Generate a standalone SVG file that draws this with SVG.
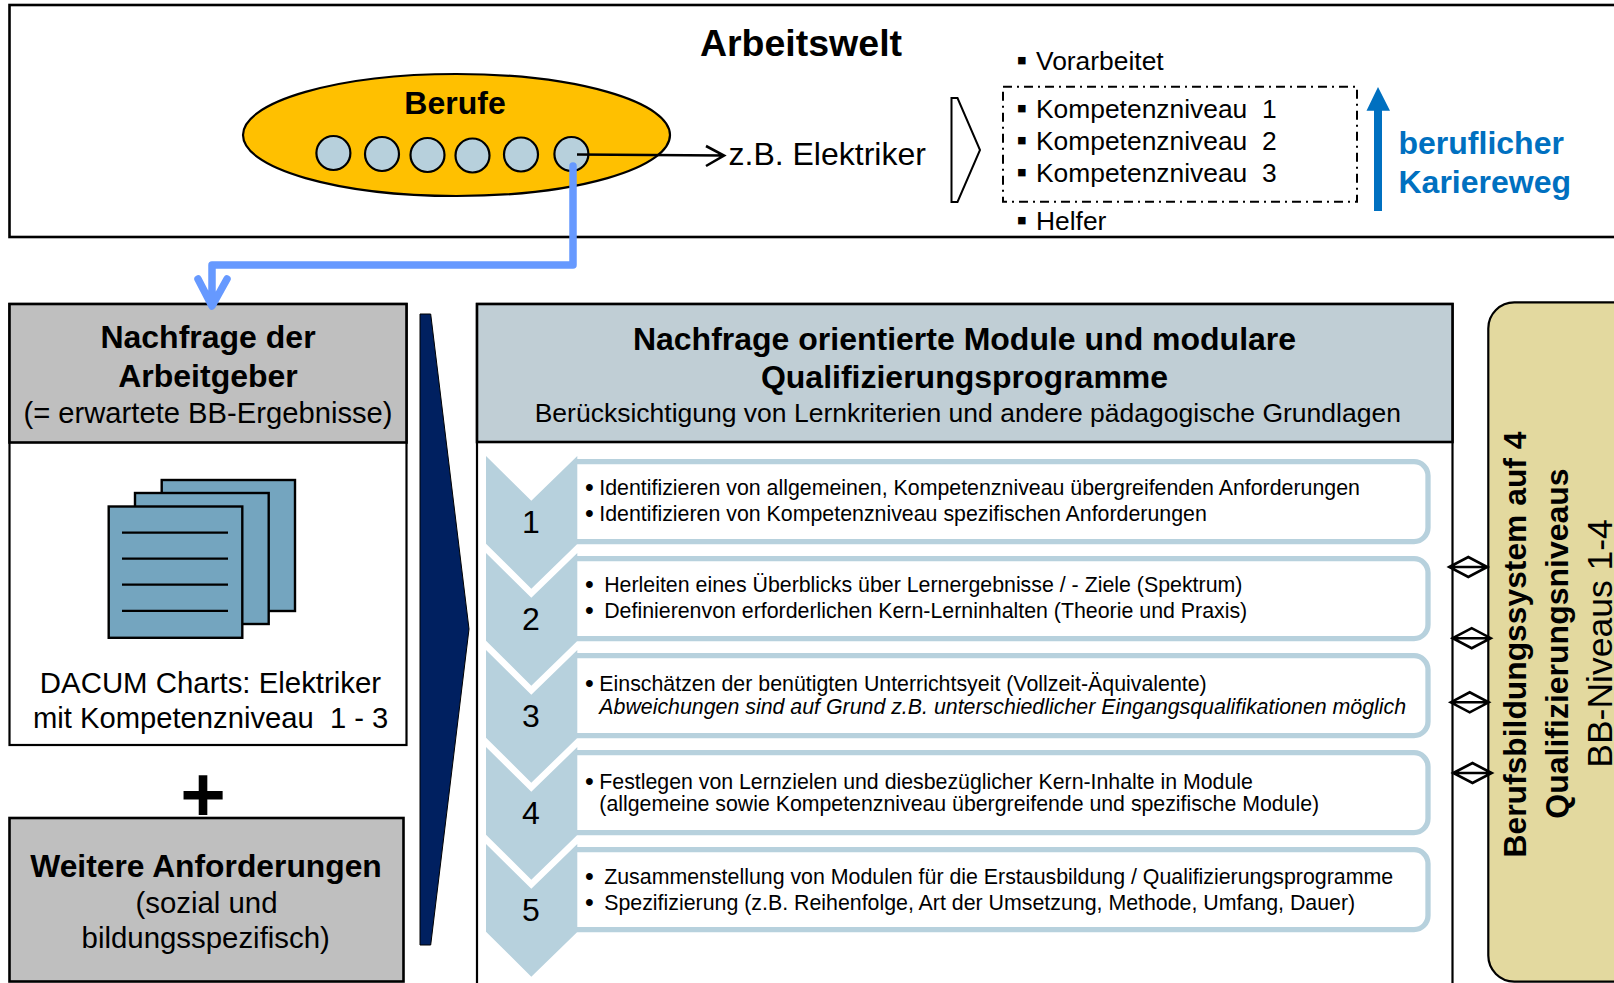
<svg xmlns="http://www.w3.org/2000/svg" width="1614" height="983" viewBox="0 0 1614 983">
<style>
text{font-family:"Liberation Sans",Arial,sans-serif;fill:#000}
.b{font-weight:700}
.m{text-anchor:middle}
.k{font-size:26.4px}
.kb{font-size:30px}
.h{font-size:32px;font-weight:700}
.s{font-size:29.4px}
.t{font-size:21.35px}
.tb{font-size:25px}
.n{font-size:32px;text-anchor:middle}
.chev{fill:#b7d1dd}
.row{fill:#fff;stroke:#b7d1dd;stroke-width:5.3}
.dot{fill:#b7d0dc;stroke:#000;stroke-width:2.2}
.sheet{fill:#74a5bf;stroke:#000;stroke-width:2.4}
.ln{stroke:#000;stroke-width:2.2;fill:none}
.dbl{fill:none;stroke:#000;stroke-width:2.6}
</style>
<rect width="1614" height="983" fill="#fff"/>
<g id="arbeitswelt">
<rect x="9.5" y="5" width="1640" height="232" fill="#fff" stroke="#000" stroke-width="2.6"/>
<text x="801" y="56" font-size="37.5" class="b m">Arbeitswelt</text>
</g>
<g id="berufe">
<ellipse cx="456.5" cy="135" rx="213.5" ry="61" fill="#ffc000" stroke="#000" stroke-width="2.2"/>
<text x="455" y="114" font-size="32" class="b m">Berufe</text>
<ellipse class="dot" cx="333.4" cy="153" rx="17" ry="17"/>
<ellipse class="dot" cx="382" cy="154" rx="17" ry="17"/>
<ellipse class="dot" cx="427.5" cy="155" rx="17" ry="17"/>
<ellipse class="dot" cx="472.5" cy="155.5" rx="17" ry="17"/>
<ellipse class="dot" cx="521" cy="154.5" rx="17" ry="17"/>
<ellipse class="dot" cx="571.4" cy="154" rx="17" ry="17"/>
</g>
<g id="beispiel"><text x="728.5" y="165" font-size="32">z.B. Elektriker</text></g>
<g id="stufen-pfeil"><polygon points="951.5,98 957.5,98 980,150 957.5,202 951.5,202" fill="#fff" stroke="#000" stroke-width="2"/></g>
<g id="stufen">
<rect x="1003" y="86.7" width="354" height="115" fill="none" stroke="#000" stroke-width="2" stroke-dasharray="9 5 2 5"/>
<text x="1016.5" y="70" class="kb">▪</text><text x="1036" y="69.5" class="k">Vorarbeitet</text>
<text x="1016.5" y="118" class="kb">▪</text><text x="1036" y="117.5" class="k" xml:space="preserve">Kompetenzniveau  1</text>
<text x="1016.5" y="150.2" class="kb">▪</text><text x="1036" y="149.7" class="k" xml:space="preserve">Kompetenzniveau  2</text>
<text x="1016.5" y="182.2" class="kb">▪</text><text x="1036" y="181.7" class="k" xml:space="preserve">Kompetenzniveau  3</text>
<text x="1016.5" y="229.8" class="kb">▪</text><text x="1036" y="230" class="k">Helfer</text>
</g>
<g id="karriereweg">
<polygon points="1374,211 1382,211 1382,110.7 1390,110.7 1378,87 1366.5,110.7 1374,110.7" fill="#0070c0"/>
<text x="1398.5" y="154" font-size="32" class="b" style="fill:#0070c0">beruflicher</text>
<text x="1398.5" y="192.7" font-size="32" class="b" style="fill:#0070c0">Kariereweg</text>
</g>
<g id="nachfrage-arbeitgeber">
<rect x="9.5" y="304" width="397" height="441" fill="#fff" stroke="#000" stroke-width="2.2"/>
<rect x="9.5" y="304" width="397" height="138.5" fill="#bfbfbf" stroke="#000" stroke-width="2.6"/>
<text x="208" y="348.2" class="h m">Nachfrage der</text>
<text x="208" y="387" class="h m">Arbeitgeber</text>
<text x="208" y="422.6" font-size="29.2" class="m">(= erwartete BB-Ergebnisse)</text>
<rect class="sheet" x="161.7" y="480" width="133.3" height="131"/>
<rect class="sheet" x="135" y="493" width="133.7" height="131"/>
<rect class="sheet" x="108.7" y="506.5" width="133.6" height="131.3"/>
<path class="ln" d="M122 532.6H228M122 558.7H228M122 584.7H228M122 610.8H228"/>
<text x="210.5" y="693" class="s m">DACUM Charts: Elektriker</text>
<text x="33" y="728" font-size="29.2" xml:space="preserve">mit Kompetenzniveau  1 - 3</text>
</g>
<g id="plus"><text x="203" y="821" font-size="78" class="b m">+</text></g>
<g id="weitere-anforderungen">
<rect x="9.5" y="818" width="394" height="163.5" fill="#bfbfbf" stroke="#000" stroke-width="2.6"/>
<text x="206" y="877.2" font-size="31.8" class="b m">Weitere Anforderungen</text>
<text x="206.5" y="913" class="s m">(sozial und</text>
<text x="205.7" y="948.4" class="s m">bildungsspezifisch)</text>
</g>
<g id="uebergang"><polygon points="420,314 430.7,314 469,629 430.7,945 420,945" fill="#002060" stroke="#000" stroke-width="1"/></g>
<g id="module">
<rect x="477" y="304" width="975.5" height="700" fill="#fff" stroke="#000" stroke-width="2.2"/>
<rect x="477" y="304" width="975.5" height="138" fill="#c0ced5" stroke="#000" stroke-width="2.6"/>
<text x="964.5" y="350" font-size="32" class="b m">Nachfrage orientierte Module und modulare</text>
<text x="964.5" y="388" font-size="32" class="b m">Qualifizierungsprogramme</text>
<text x="967.8" y="422" font-size="26.5" class="m">Berücksichtigung von Lernkriterien und andere pädagogische Grundlagen</text>
</g>
<g id="schritt-1">
<path class="row" d="M577 461.7H1414a14 14 0 0 1 14 14V527.6a14 14 0 0 1-14 14H577"/>
<polygon class="chev" points="486,456 531.3,500.7 577.3,456 577.3,544 531.3,588.7 486,543.7"/>
<text x="531" y="533" class="n">1</text>
<text x="585" y="496" class="tb">•</text><text x="599.3" y="495" class="t">Identifizieren von allgemeinen, Kompetenzniveau übergreifenden Anforderungen</text>
<text x="585" y="521.7" class="tb">•</text><text x="599.3" y="520.7" class="t">Identifizieren von Kompetenzniveau spezifischen Anforderungen</text>
</g>
<g id="schritt-2">
<path class="row" d="M577 558.7H1414a14 14 0 0 1 14 14V624.6a14 14 0 0 1-14 14H577"/>
<polygon class="chev" points="486,553 531.3,597.7 577.3,553 577.3,641 531.3,685.7 486,640.7"/>
<text x="531" y="629.7" class="n">2</text>
<text x="585" y="593.3" class="tb">•</text><text x="604.2" y="592.3" class="t">Herleiten eines Überblicks über Lernergebnisse / - Ziele (Spektrum)</text>
<text x="585" y="619.3" class="tb">•</text><text x="604.2" y="618.3" class="t">Definierenvon erforderlichen Kern-Lerninhalten (Theorie und Praxis)</text>
</g>
<g id="schritt-3">
<path class="row" d="M577 655.7H1414a14 14 0 0 1 14 14V721.6a14 14 0 0 1-14 14H577"/>
<polygon class="chev" points="486,650 531.3,694.7 577.3,650 577.3,738 531.3,782.7 486,737.7"/>
<text x="531" y="727" class="n">3</text>
<text x="585" y="692" class="tb">•</text><text x="599.3" y="691" class="t">Einschätzen der benütigten Unterrichtsyeit (Vollzeit-Äquivalente)</text>
<text x="599.3" y="714.3" class="t" font-style="italic">Abweichungen sind auf Grund z.B. unterschiedlicher Eingangsqualifikationen möglich</text>
</g>
<g id="schritt-4">
<path class="row" d="M577 752.7H1414a14 14 0 0 1 14 14V818.6a14 14 0 0 1-14 14H577"/>
<polygon class="chev" points="486,747 531.3,791.7 577.3,747 577.3,835 531.3,879.7 486,834.7"/>
<text x="531" y="824" class="n">4</text>
<text x="585" y="790" class="tb">•</text><text x="599.3" y="789" font-size="21.3">Festlegen von Lernzielen und diesbezüglicher Kern-Inhalte in Module</text>
<text x="599.3" y="810.7" font-size="21.3">(allgemeine sowie Kompetenzniveau übergreifende und spezifische Module)</text>
</g>
<g id="schritt-5">
<path class="row" d="M577 849.7H1414a14 14 0 0 1 14 14V915.6a14 14 0 0 1-14 14H577"/>
<polygon class="chev" points="486,844 531.3,888.7 577.3,844 577.3,932 531.3,976.7 486,931.7"/>
<text x="531" y="920.7" class="n">5</text>
<text x="585" y="885.3" class="tb">•</text><text x="604.2" y="884.3" class="t">Zusammenstellung von Modulen für die Erstausbildung / Qualifizierungsprogramme</text>
<text x="585" y="911.3" class="tb">•</text><text x="604.2" y="910.3" class="t">Spezifizierung (z.B. Reihenfolge, Art der Umsetzung, Methode, Umfang, Dauer)</text>
</g>
<g id="bb-system">
<rect x="1488.3" y="302.4" width="200" height="679.2" rx="26" fill="#e3d99f" stroke="#000" stroke-width="2.2"/>
<text transform="translate(1525.7 644.5) rotate(-90)" font-size="31.8" class="b m">Berufsbildungssystem auf 4</text>
<text transform="translate(1568 643.5) rotate(-90)" font-size="32" class="b m">Qualifizierungsniveaus</text>
<text transform="translate(1611.7 643.5) rotate(-90)" font-size="35.5" class="m">BB-Niveaus 1-4</text>
</g>
<g id="connectors">
<path d="M577 154.5L724 155.5M706 146L724 155.5L706 166" fill="none" stroke="#000" stroke-width="2.6"/>
<path d="M573 166V265H212V305M198 279L212 306L227 279" fill="none" stroke="#6699ff" stroke-width="7.5" stroke-linejoin="round" stroke-linecap="round"/>
<path class="dbl" d="M1449.3 567L1468.3 557L1487.3 567L1468.3 577ZM1449.3 567H1487.3"/>
<path class="dbl" d="M1452.7 638.2L1471.7 628.2L1490.7 638.2L1471.7 648.2ZM1452.7 638.2H1490.7"/>
<path class="dbl" d="M1450.7 702.3L1469.7 692.3L1488.7 702.3L1469.7 712.3ZM1450.7 702.3H1488.7"/>
<path class="dbl" d="M1453.3 773L1472.5 763L1491.7 773L1472.5 783ZM1453.3 773H1491.7"/>
</g>
</svg>
